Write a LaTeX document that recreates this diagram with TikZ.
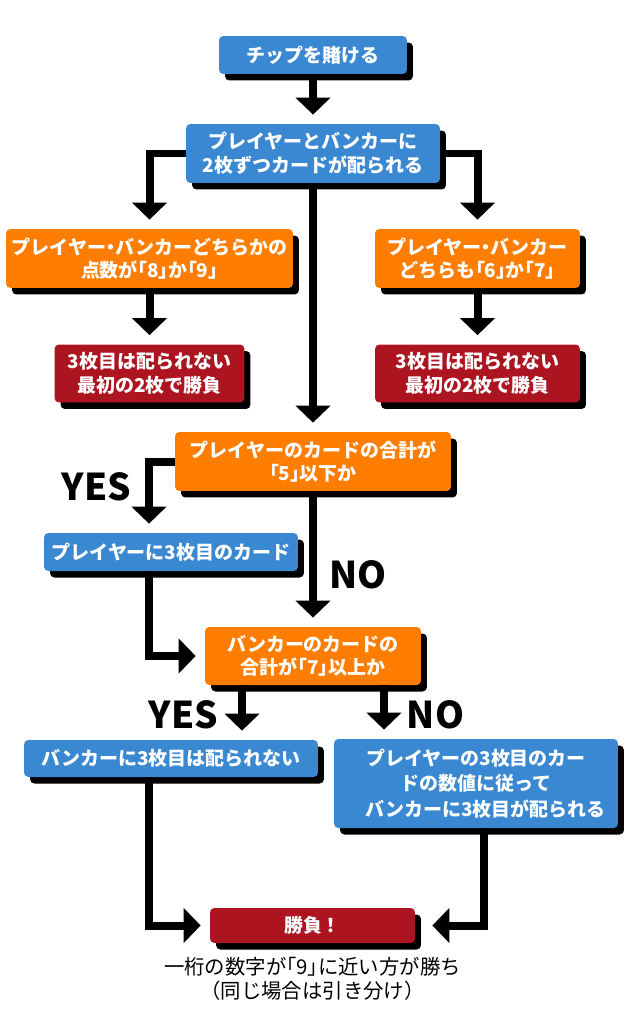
\documentclass[tikz,border=0pt]{standalone}
\usepackage{fontspec}
\setmainfont{Noto Sans CJK JP}
\newfontfamily\paltfont[RawFeature=+palt]{Noto Sans CJK JP}
\newcommand{\kg}[1]{{\paltfont 「}#1{\paltfont 」}}
\newcommand{\nakaten}{{\paltfont ・}}
\usetikzlibrary{arrows.meta,positioning,shadows}
\definecolor{chipblue}{RGB}{58,136,210}
\definecolor{askorange}{RGB}{255,125,0}
\definecolor{endred}{RGB}{172,20,32}

\begin{document}
\begin{tikzpicture}[x=0.02cm,y=-0.02cm,
    box/.style={rounded corners=2.5pt,inner sep=0pt,align=center,text=white,
      font=\fontsize{10.8pt}{13.4pt}\selectfont\bfseries,
      drop shadow={shadow xshift=0.12cm,shadow yshift=-0.13cm,fill=black,opacity=1}},
    bluebox/.style={box,fill=chipblue},
    orangebox/.style={box,fill=askorange},
    redbox/.style={box,fill=endred},
    arr/.style={line width=0.16cm,-{Triangle[width=0.68cm,length=0.34cm]},shorten >=0.18cm},
    answer/.style={inner sep=0pt,font=\fontsize{21pt}{21pt}\selectfont\bfseries}]
                      \useasboundingbox (0,0) rectangle (625,1024);
                      \coordinate (lft) at (149,0);
                      \coordinate (rgt) at (484,0);
                      \node[bluebox,minimum width=3.76cm,minimum height=0.76cm] (bet) at (313,55) {チップを賭ける};
                      \node[bluebox,minimum width=5.08cm,minimum height=1.18cm] (deal) at (313,153.5) {プレイヤーとバンカーに\\2枚ずつカードが配られる};
                      \node[orangebox,minimum width=5.74cm,minimum height=1.18cm] (pb89) at (149.5,258.5) {プレイヤー\nakaten バンカーどちらかの\\点数が\kg{8}か\kg{9}};
                      \node[orangebox,minimum width=4.1cm,minimum height=1.18cm] (pb67) at (477.5,258.5) {プレイヤー\nakaten バンカー\\どちらも\kg{6}か\kg{7}};
                      \node[redbox,minimum width=3.8cm,minimum height=1.16cm] (nat1) at (149.5,373.5) {3枚目は配られない\\最初の2枚で勝負};
                      \node[redbox,minimum width=4.1cm,minimum height=1.16cm] (nat2) at (477.5,373.5) {3枚目は配られない\\最初の2枚で勝負};
                      \node[orangebox,minimum width=5.52cm,minimum height=1.18cm] (psum) at (313,461.5) {プレイヤーのカードの合計が\\\kg{5}以下か};
                      \node[bluebox,minimum width=5.08cm,minimum height=0.76cm] (p3rd) at (171,552) {プレイヤーに3枚目のカード};
                      \node[orangebox,minimum width=4.32cm,minimum height=1.16cm] (bsum) at (313,656) {バンカーのカードの\\合計が\kg{7}以上か};
                      \node[bluebox,minimum width=5.88cm,minimum height=0.74cm] (bnone) at (171,758.5) {バンカーに3枚目は配られない};
                      \node[bluebox,minimum width=5.68cm,minimum height=1.78cm] (bdeal) at (476,783.5) {プレイヤーの3枚目のカー\\[1pt]ドの数値に従って\\[1pt]\hspace*{1em}バンカーに3枚目が配られる};
                      \node[redbox,minimum width=4.1cm,minimum height=0.7cm] (win) at (312.5,925.5) {勝負！};
                      \node[below=0.16cm of win,align=center,font=\fontsize{11.6pt}{13.4pt}\selectfont] (rule) {一桁の数字が\kg{9}に近い方が勝ち\\（同じ場合は引き分け）};
                      \path[arr]
                      (bet) edge (deal)
                      (deal) edge (psum)
                      (pb89) edge (nat1)
                      (pb67) edge (nat2)
                      (psum) edge node[answer,right=0.24cm,pos=.62]{NO} (bsum);
                      \draw[arr] (deal.west) -| (pb89);
                      \draw[arr] (deal.east) -| (pb67);
                      \draw[arr] (psum.west) -| node[answer,left=0.28cm,pos=.68]{YES} (p3rd.north -| lft);
                      \draw[arr] (p3rd.south -| lft) |- (bsum.west);
                      \draw[arr] ([xshift=-1.42cm]bsum.south) -- node[answer,left=0.4cm,pos=.55]{YES} ([xshift=-1.42cm]bsum.south |- bnone.north);
                      \draw[arr] ([xshift=1.42cm]bsum.south) -- node[answer,right=0.38cm,pos=.55]{NO} ([xshift=1.42cm]bsum.south |- bdeal.north);
                      \draw[arr] (bnone.south -| lft) |- (win.west);
                      \draw[arr,shorten >=0.34cm] (bdeal.south -| rgt) |- (win.east);
                  \end{tikzpicture}
\end{document}
